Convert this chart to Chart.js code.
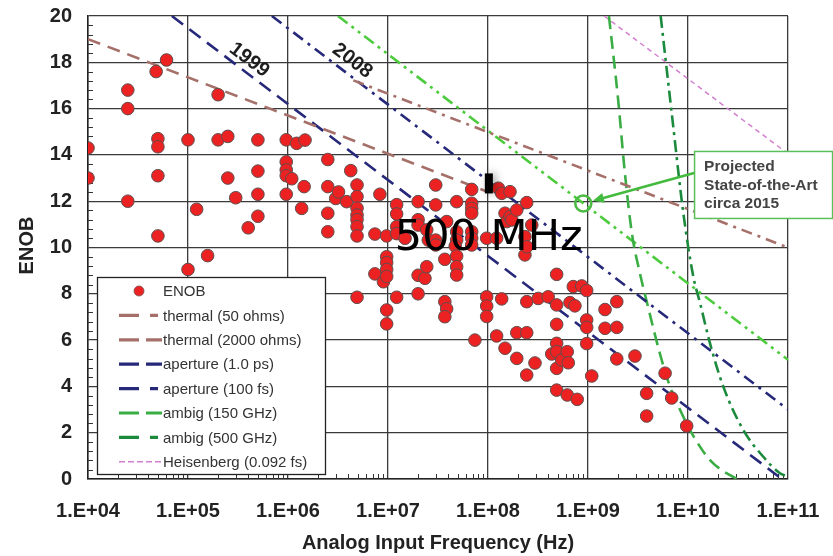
<!DOCTYPE html>
<html>
<head>
<meta charset="utf-8">
<script src="https://cdn.jsdelivr.net/npm/chart.js@4.4.0/dist/chart.umd.min.js"></script>
<style>
html,body{margin:0;padding:0;background:#fff;}
#wrap{width:833px;height:556px;}
</style>
</head>
<body>
<div id="wrap"><canvas id="c" width="833" height="556"></canvas></div>
<script>
// ---------- tick labels ----------
const xTickValues = [1e4, 1e5, 1e6, 1e7, 1e8, 1e9, 1e10, 1e11];
const xTickLabels = ['1.E+04','1.E+05','1.E+06','1.E+07','1.E+08','1.E+09','1.E+10','1.E+11'];
const yTickValues = [0, 2, 4, 6, 8, 10, 12, 14, 16, 18, 20];

// ---------- ENOB survey points ----------
const enobFreq = [
  1e4,1e4, 2.5e4,2.5e4,2.5e4, 4.8e4,6.1e4, 5e4,5e4,5e4,5e4, 1e5,1e5, 1.22e5,1.57e5, 2e5,2e5, 2.5e5,2.5e5,
  3e5,4e5, 5e5,5e5,5e5,5e5, 9.6e5,9.6e5,9.6e5,9.6e5,9.6e5, 1.09e6,1.22e6,1.48e6, 1.45e6,1.37e6,
  2.5e6,2.5e6,2.5e6,2.5e6, 3e6,3.2e6,3.86e6,4.24e6,
  4.9e6,4.9e6,4.9e6,4.9e6,4.9e6,4.9e6,4.9e6,4.9e6, 7.4e6,7.4e6,8.3e6,9e6,
  9.7e6,9.7e6,9.7e6,9.7e6,9.7e6,9.7e6,9.7e6, 1.22e7,1.22e7,1.22e7,1.22e7,1.22e7, 1.48e7,
  2e7,2e7,2e7,2e7,2e7, 2.34e7,2.44e7,2.44e7,2.53e7, 3e7,3e7,3e7,3e7,
  3.7e7,3.7e7,3.86e7,3.7e7, 3.86e7,
  4.86e7,4.86e7,4.86e7,4.7e7,4.86e7,4.86e7,4.86e7,
  6.87e7,6.87e7,6.87e7,6.87e7,6.87e7,6.87e7,6.87e7, 7.4e7,
  9.7e7,9.7e7,9.7e7,9.7e7, 1.22e8,1.22e8, 1.27e8,1.37e8,1.37e8,
  1.48e8,1.48e8,1.54e8,1.66e8,1.66e8,1.73e8, 1.94e8,1.94e8,1.94e8, 2.34e8,2.34e8,
  2.44e8,2.44e8,2.44e8,2.44e8,2.44e8, 2.74e8,2.95e8,3.18e8,4e8,4.34e8,
  4.86e8,4.86e8,4.86e8,4.86e8,4.86e8,4.86e8,4.86e8,
  5.46e8,6.2e8,6.2e8,6.35e8,6.6e8,7.13e8,7.4e8,7.8e8,8.65e8,
  9.7e8,9.7e8,9.7e8,9.7e8, 1.09e9,1.48e9,1.48e9, 1.94e9,1.94e9,1.94e9,
  2.95e9,3.86e9,3.86e9,5.9e9,6.87e9,9.7e9
];
const enobBits = [
  14.3,13.0, 16.8,16.0,12.0, 17.6,18.1, 14.7,14.35,13.1,10.5, 14.65,9.05, 11.65,9.65, 16.6,14.65, 14.8,13.0,
  12.15,10.85, 14.65,13.3,12.3,11.35, 14.65,13.7,13.35,13.1,12.3, 12.97,14.5,14.64, 12.63,11.69,
  13.8,12.63,11.48,10.68, 12.12,12.4,11.98,13.32,
  12.7,12.2,11.7,11.4,11.2,10.9,10.5,7.85, 10.58,8.86,12.3,8.52,
  10.5,9.6,9.35,9.05,8.75,7.3,6.7, 11.85,11.45,10.9,10.6,7.85, 10.4,
  11.98,11.2,10.97,8.8,8.0, 8.67,10.76,9.17,10.32, 12.7,11.84,10.32,10.11,
  9.49,7.66,7.35,7.01, 11.12,
  11.98,10.68,10.32,10.06,9.63,9.17,8.81,
  12.51,11.91,11.69,11.48,10.68,10.4,10.11, 6.0,
  10.4,7.87,7.47,7.02, 10.4,6.18, 12.56,12.34,7.78,
  11.48,5.65,11.12,12.41,11.33,11.19, 11.62,6.32,5.21, 10.47,9.68,
  11.94,10.03,7.66,6.32,4.49, 10.97,5.01,7.8,7.87,5.4,
  8.84,7.52,6.68,5.86,5.5,4.78,3.84,
  5.14,5.5,3.63,5.02,7.62,8.31,7.48,3.44,8.34,
  8.14,6.87,6.55,5.85, 4.45,7.32,6.51, 7.66,6.55,5.19,
  5.31,3.7,2.72,4.57,3.5,2.29
];

// ---------- limit lines ----------
const thermal50Freq = [4.5e6, 1e11];
const thermal50Bits = [17.22, 10.0];
const thermal2000Freq = [1e4, 1e8];
const thermal2000Bits = [19.0, 12.4];
const aperture1psFreq = [6.9e4, 1e11];
const aperture1psBits = [20.0, -0.2];
const aperture100fsFreq = [6.9e5, 1e11];
const aperture100fsBits = [20.0, 3.0];
const ambig150Freq = [1.62e9, 2.0e9, 2.34e9, 2.75e9, 3.3e9, 3.9e9, 5.25e9, 6.6e9, 8.3e9, 1.1e10, 1.66e10, 2.8e10, 4.5e10];
const ambig150Bits = [20.0, 16.4, 13.2, 10.6, 8.9, 7.6, 5.4, 4.0, 3.0, 1.95, 0.82, 0.1, -0.26];
const ambig500Freq = [5.33e9, 7.13e9, 8.97e9, 1.13e10, 1.32e10, 1.66e10, 2.25e10, 3.57e10, 5.66e10, 8.3e10, 1e11];
const ambig500Bits = [20.0, 15.2, 11.5, 8.74, 7.6, 5.86, 4.0, 2.12, 0.96, 0.25, 0.1];
const heisenbergFreq = [1.45e9, 1e11];
const heisenbergBits = [20.0, 14.05];
const stateArtFreq = [3.16e6, 1e11];
const stateArtBits = [20.0, 5.15];
const projectedFreq = [8.97e8];
const projectedBits = [11.9];

const zip = (xs, ys) => xs.map((x, i) => ({ x: x, y: ys[i] }));
const FONT = "'Liberation Sans', Arial, Helvetica, sans-serif";

function lineDs(label, xs, ys, color, dash, width, legendDash, extra) {
  return Object.assign({
    label: label, data: zip(xs, ys), showLine: true, borderColor: color, backgroundColor: color,
    borderWidth: width, borderDash: dash, pointRadius: 0, pointHoverRadius: 0,
    legendDash: legendDash, legendWidth: width >= 2 ? 3.2 : 1.5, inLegend: true
  }, extra || {});
}

const datasets = [
  { label: 'ENOB', data: zip(enobFreq, enobBits), backgroundColor: '#ec2222', borderColor: '#5e4d4d',
    borderWidth: 1, pointRadius: 6.3, pointHoverRadius: 6.3, inLegend: true, isPoint: true },
  { label: 'projected', data: zip(projectedFreq, projectedBits), backgroundColor: 'rgba(0,0,0,0)',
    borderColor: '#4cbb44', borderWidth: 2.6, pointRadius: 8, pointHoverRadius: 8, inLegend: false },
  lineDs('thermal (50 ohms)', thermal50Freq, thermal50Bits, '#a6706a', [11, 6, 3, 6], 2.6, [20, 11, 8, 40]),
  lineDs('thermal (2000 ohms)', thermal2000Freq, thermal2000Bits, '#a6706a', [13, 8], 2.6, [20, 7, 20, 40]),
  lineDs('aperture (1.0 ps)', aperture1psFreq, aperture1psBits, '#26287a', [14, 8], 2.6, [20, 7, 20, 40]),
  lineDs('aperture (100 fs)', aperture100fsFreq, aperture100fsBits, '#26287a', [12, 6, 3, 6], 2.6, [20, 11, 8, 40]),
  lineDs('ambig (150 GHz)', ambig150Freq, ambig150Bits, '#3aad44', [13, 7], 2.6, [20, 7, 20, 40], { cubicInterpolationMode: 'monotone' }),
  lineDs('ambig (500 GHz)', ambig500Freq, ambig500Bits, '#1b8a3c', [12, 5, 3, 5], 2.6, [20, 11, 8, 40], { cubicInterpolationMode: 'monotone' }),
  lineDs('Heisenberg (0.092 fs)', heisenbergFreq, heisenbergBits, '#d27fcf', [5, 4], 1.5, [6, 3]),
  lineDs('state-of-the-art', stateArtFreq, stateArtBits, '#4ccc3c', [12, 5, 3, 5, 3, 5], 2.6, null, { inLegend: false })
];

const minorTicks = {
  id: 'minorTicks',
  beforeDatasetsDraw(chart) {
    const c = chart.ctx, xs = chart.scales.x, ys = chart.scales.y, a = chart.chartArea;
    c.save();
    c.strokeStyle = '#333'; c.lineWidth = 1;
    c.beginPath();
    for (let d = 1e4; d < 1e11; d *= 10) {
      for (let m = 2; m <= 9; m++) {
        const px = Math.round(xs.getPixelForValue(m * d)) + 0.5;
        c.moveTo(px, a.bottom); c.lineTo(px, a.bottom - 5);
      }
    }
    for (let k = 1; k < 50; k++) {
      if (k % 5 === 0) continue;
      const py = Math.round(ys.getPixelForValue(k * 0.4)) + 0.5;
      c.moveTo(a.left, py); c.lineTo(a.left + 5, py);
    }
    c.stroke();
    c.restore();
  }
};

const boxLegend = {
  id: 'boxLegend',
  afterDatasetsDraw(chart) {
    const c = chart.ctx, a = chart.chartArea;
    const lx = a.left + 9, ly = a.bottom - 202, lw = 228, lh = 197;
    c.save();
    c.fillStyle = '#fff';
    c.fillRect(lx, ly, lw, lh);
    c.strokeStyle = '#222'; c.lineWidth = 1.3;
    c.strokeRect(lx + 0.5, ly + 0.5, lw, lh);
    const items = chart.data.datasets.filter(d => d.inLegend);
    c.font = '15px ' + FONT;
    c.textBaseline = 'middle';
    items.forEach((d, i) => {
      const yy = ly + 14 + i * 24.4;
      if (d.isPoint) {
        c.beginPath();
        c.arc(lx + 42, yy, 5, 0, Math.PI * 2);
        c.fillStyle = d.backgroundColor; c.fill();
        c.lineWidth = 0.8; c.strokeStyle = '#7a5050'; c.stroke();
      } else {
        c.beginPath();
        c.setLineDash(d.legendDash);
        c.lineWidth = d.legendWidth;
        c.strokeStyle = d.borderColor;
        c.moveTo(lx + 22, yy); c.lineTo(lx + 65, yy);
        c.stroke();
        c.setLineDash([]);
      }
      c.fillStyle = '#333';
      c.fillText(d.label, lx + 66, yy + 1);
    });
    c.restore();
  }
};

const annotations = {
  id: 'annotations',
  afterDraw(chart) {
    const c = chart.ctx, xs = chart.scales.x, ys = chart.scales.y, a = chart.chartArea;
    c.save();
    // axis titles
    c.fillStyle = '#222';
    c.font = 'bold 20px ' + FONT;
    c.textAlign = 'center'; c.textBaseline = 'middle';
    c.fillText('Analog Input Frequency (Hz)', (a.left + a.right) / 2, 543);
    c.save();
    c.translate(27, (a.top + a.bottom) / 2 - 2);
    c.rotate(-Math.PI / 2);
    c.fillText('ENOB', 0, 0);
    c.restore();

    // year labels along the aperture lines
    const ang1 = Math.atan2(ys.getPixelForValue(aperture1psBits[1]) - ys.getPixelForValue(aperture1psBits[0]),
                            xs.getPixelForValue(aperture1psFreq[1]) - xs.getPixelForValue(aperture1psFreq[0]));
    const ang2 = Math.atan2(ys.getPixelForValue(aperture100fsBits[1]) - ys.getPixelForValue(aperture100fsBits[0]),
                            xs.getPixelForValue(aperture100fsFreq[1]) - xs.getPixelForValue(aperture100fsFreq[0]));
    c.font = 'bold 20px ' + FONT;
    c.fillStyle = '#1e1e1e';
    [[4.1e5, 18.1, ang1, '1999'], [4.4e6, 18.06, ang2, '2008']].forEach(t => {
      c.save();
      c.translate(xs.getPixelForValue(t[0]), ys.getPixelForValue(t[1]));
      c.rotate(t[2]);
      c.fillText(t[3], 0, 0);
      c.restore();
    });

    // projected callout
    const bx = xs.getPixelForValue(1.15e10), by = ys.getPixelForValue(14.17), bw = 138, bh = 67;
    c.fillStyle = '#fff';
    c.fillRect(bx, by, bw, bh);
    c.strokeStyle = '#5cc05a'; c.lineWidth = 1.5;
    c.strokeRect(bx + 0.5, by + 0.5, bw, bh);
    c.fillStyle = '#444';
    c.font = 'bold 15.5px ' + FONT;
    c.textAlign = 'left'; c.textBaseline = 'middle';
    c.fillText('Projected', bx + 10, by + 16);
    c.fillText('State-of-the-Art', bx + 10, by + 35);
    c.fillText('circa 2015', bx + 10, by + 53);

    const cx = xs.getPixelForValue(projectedFreq[0]), cy = ys.getPixelForValue(projectedBits[0]);
    const sx = bx, sy = by + 22;
    const dx = cx - sx, dy = cy - sy, L = Math.hypot(dx, dy);
    const ux = dx / L, uy = dy / L;
    const tx = cx - ux * 10, ty = cy - uy * 10;
    c.strokeStyle = '#44bb3e'; c.fillStyle = '#44bb3e'; c.lineWidth = 2.6;
    c.beginPath(); c.moveTo(sx, sy); c.lineTo(tx - ux * 8, ty - uy * 8); c.stroke();
    c.beginPath();
    c.moveTo(tx, ty);
    c.lineTo(tx - ux * 11 - uy * 5, ty - uy * 11 + ux * 5);
    c.lineTo(tx - ux * 11 + uy * 5, ty - uy * 11 - ux * 5);
    c.closePath(); c.fill();

    // overlay marker and text
    const mx = xs.getPixelForValue(9.3e7), my = ys.getPixelForValue(13.2);
    c.save();
    c.shadowColor = 'rgba(0,0,0,0.35)'; c.shadowBlur = 8; c.shadowOffsetX = 3;
    c.fillStyle = '#000';
    c.fillRect(mx, my, 8, 20);
    c.restore();
    c.fillStyle = '#000';
    c.font = "43px 'DejaVu Sans', sans-serif";
    c.textAlign = 'left'; c.textBaseline = 'alphabetic';
    c.fillText('500 MHz', xs.getPixelForValue(1.17e7), ys.getPixelForValue(9.89));
    c.restore();
  }
};

new Chart(document.getElementById('c').getContext('2d'), {
  type: 'scatter',
  data: { datasets: datasets },
  options: {
    responsive: false, animation: false, devicePixelRatio: 1,
    layout: { padding: { top: 16, right: 45, left: 0, bottom: 0 } },
    plugins: { legend: { display: false }, tooltip: { enabled: false } },
    events: [],
    scales: {
      x: {
        type: 'logarithmic', min: 1e4, max: 1e11,
        afterBuildTicks(s) { s.ticks = xTickValues.map(v => ({ value: v })); },
        afterFit(s) { s.height = 77; },
        ticks: { callback: (v, i) => xTickLabels[i], autoSkip: false, maxRotation: 0,
                 font: { family: FONT, size: 20, weight: 'bold' }, color: '#222', padding: 0 },
        grid: { color: '#3a3a3a', lineWidth: 1.3, drawTicks: true, tickLength: 20, tickColor: 'rgba(0,0,0,0)' },
        border: { color: '#222', width: 1.5 }
      },
      y: {
        min: 0, max: 20,
        afterBuildTicks(s) { s.ticks = yTickValues.map(v => ({ value: v })); },
        afterFit(s) { s.width = 88; },
        ticks: { font: { family: FONT, size: 20, weight: 'bold' }, color: '#222', padding: 0 },
        grid: { color: '#3a3a3a', lineWidth: 1.3, drawTicks: true, tickLength: 16, tickColor: 'rgba(0,0,0,0)' },
        border: { color: '#222', width: 1.5 }
      }
    }
  },
  plugins: [minorTicks, boxLegend, annotations]
});
</script>
</body>
</html>
